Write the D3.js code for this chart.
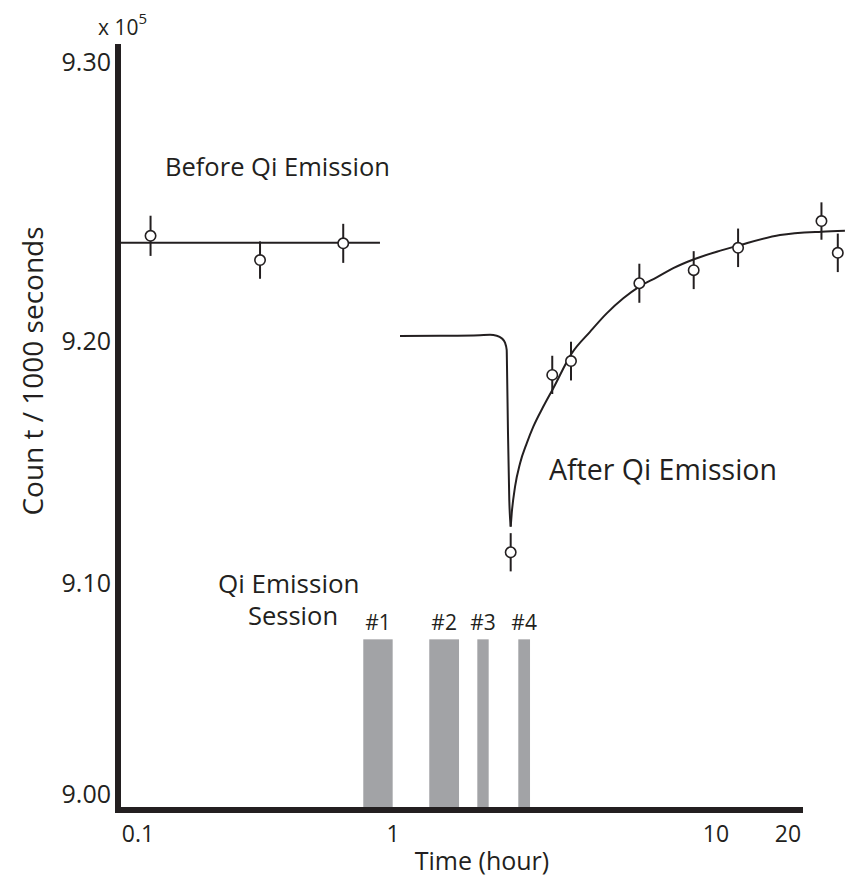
<!DOCTYPE html>
<html>
<head>
<meta charset="utf-8">
<script src="https://cdn.jsdelivr.net/npm/d3@7"></script>
<style>
  html, body { margin: 0; padding: 0; background: #fff; }
  svg text { font-family: "Open Sans", "Noto Sans", sans-serif; fill: #231f20; }
</style>
</head>
<body>
<svg id="chart" width="846" height="879"></svg>
<script>
// ---- data (time in hours, counts in units of 10^5 per 1000 s) ----
const xTickValues = [0.1, 1, 10, 20];
const xTickLabels = ["0.1", "1", "10", "20"];
const yTickValues = [9.00, 9.10, 9.20, 9.30];
const yTickLabels = ["9.00", "9.10", "9.20", "9.30"];

// measurements before emission: time, count, error
const beforeTime  = [0.112, 0.301, 0.638];
const beforeCount = [9.2377, 9.2290, 9.2350];
const beforeErr   = [0.0072, 0.0067, 0.0070];
const beforeLevel = 9.2352;
const beforeSpan  = [0.0835, 0.889];

// measurements after emission
const afterTime  = [2.314, 3.112, 3.557, 5.79, 8.53, 12.37, 27.6, 32.3];
const afterCount = [9.1127, 9.1860, 9.1917, 9.2207, 9.2254, 9.2334, 9.2430, 9.2316];
const afterErr   = [0.0079, 0.0079, 0.0080, 0.0070, 0.0068, 0.0069, 0.0067, 0.0069];

// fitted trace: level before the drop, and the drop itself
const dropTime  = [1.051, 1.398, 1.859, 1.997, 2.095, 2.170, 2.222, 2.249, 2.254, 2.270, 2.291, 2.314];
const dropCount = [9.2018, 9.2019, 9.2021, 9.2022, 9.2019, 9.2010, 9.1993, 9.1963, 9.1894, 9.1619, 9.1343, 9.1233];

// fitted recovery trace
const recoveryTime  = [2.314, 2.331, 2.387, 2.474, 2.594, 2.719, 2.920, 3.135, 3.575, 4.073, 4.588, 5.164, 5.788, 6.553, 7.375, 8.55, 10.07, 12.27, 18.52, 27.6, 34.6];
const recoveryCount = [9.1233, 9.1288, 9.1398, 9.1495, 9.1577, 9.1646, 9.1729, 9.1805, 9.1949, 9.2033, 9.2099, 9.2153, 9.2195, 9.2228, 9.2261, 9.2293, 9.2320, 9.2341, 9.2380, 9.2392, 9.2395];

// emission sessions: label, start, end (hours)
const sessionLabels = ["#1", "#2", "#3", "#4"];
const sessionStart  = [0.7646, 1.295, 1.824, 2.443];
const sessionEnd    = [0.997, 1.601, 1.978, 2.656];
const sessionLevel  = 9.0733;

// ---- scales ----
const x = d3.scaleLog().domain(xTickValues).range([138, 393, 716, 788]);
const y = d3.scaleLinear().domain(yTickValues).range([794, 583, 341, 62]);

const svg = d3.select("#chart");
const ink = "#231f20";

// frame geometry
const frameLeft = 118, frameRight = 803, frameTop = 44, frameBottom = 810;

// ---- emission session bars ----
const sessions = sessionLabels.map((l, i) => ({ l, s: sessionStart[i], e: sessionEnd[i] }));

svg.append("g").selectAll("rect")
  .data(sessions)
  .join("rect")
  .attr("x", d => x(d.s))
  .attr("width", d => x(d.e) - x(d.s))
  .attr("y", y(sessionLevel))
  .attr("height", frameBottom - y(sessionLevel))
  .attr("fill", "#a2a3a6");

svg.append("g").selectAll("text")
  .data(sessions)
  .join("text")
  .attr("x", d => (x(d.s) + x(d.e)) / 2)
  .attr("y", y(sessionLevel) - 9)
  .attr("text-anchor", "middle")
  .attr("font-size", 21)
  .text(d => d.l);

// ---- axes ----
svg.append("line")
  .attr("x1", frameLeft).attr("x2", frameLeft)
  .attr("y1", frameTop).attr("y2", frameBottom + 3)
  .attr("stroke", ink).attr("stroke-width", 6);
svg.append("line")
  .attr("x1", frameLeft - 3).attr("x2", frameRight)
  .attr("y1", frameBottom).attr("y2", frameBottom)
  .attr("stroke", ink).attr("stroke-width", 6);

svg.append("g").selectAll("text")
  .data(yTickValues)
  .join("text")
  .attr("x", 111)
  .attr("y", d => y(d))
  .attr("dy", "0.36em")
  .attr("text-anchor", "end")
  .attr("font-size", 25)
  .text((d, i) => yTickLabels[i]);

svg.append("g").selectAll("text")
  .data(xTickValues)
  .join("text")
  .attr("x", d => x(d))
  .attr("y", 842)
  .attr("text-anchor", "middle")
  .attr("font-size", 23)
  .text((d, i) => xTickLabels[i]);

// axis titles
svg.append("text")
  .attr("transform", "translate(43,371) rotate(-90)")
  .attr("text-anchor", "middle")
  .attr("font-size", 28)
  .text("Coun t / 1000 seconds");

svg.append("text")
  .attr("x", 482).attr("y", 870)
  .attr("text-anchor", "middle")
  .attr("font-size", 25)
  .text("Time (hour)");

const mult = svg.append("text").attr("x", 98).attr("y", 35).attr("font-size", 21);
mult.append("tspan").text("x 10");
mult.append("tspan").attr("dy", -11).attr("font-size", 15).text("5");

// ---- fitted traces ----
const line = d3.line().x(d => x(d[0])).y(d => y(d[1])).curve(d3.curveMonotoneX);

svg.append("line")
  .attr("x1", x(beforeSpan[0])).attr("x2", x(beforeSpan[1]))
  .attr("y1", y(beforeLevel)).attr("y2", y(beforeLevel))
  .attr("stroke", ink).attr("stroke-width", 2);

svg.append("path")
  .datum(dropTime.map((t, i) => [t, dropCount[i]]))
  .attr("d", line)
  .attr("fill", "none").attr("stroke", ink).attr("stroke-width", 2);

svg.append("path")
  .datum(recoveryTime.map((t, i) => [t, recoveryCount[i]]))
  .attr("d", line)
  .attr("fill", "none").attr("stroke", ink).attr("stroke-width", 2);

// ---- measurements with error bars ----
const points = beforeTime.map((t, i) => ({ t, c: beforeCount[i], e: beforeErr[i] }))
  .concat(afterTime.map((t, i) => ({ t, c: afterCount[i], e: afterErr[i] })));

const pts = svg.append("g").selectAll("g").data(points).join("g");
pts.append("line")
  .attr("x1", d => x(d.t)).attr("x2", d => x(d.t))
  .attr("y1", d => y(d.c + d.e)).attr("y2", d => y(d.c - d.e))
  .attr("stroke", ink).attr("stroke-width", 2);
pts.append("circle")
  .attr("cx", d => x(d.t)).attr("cy", d => y(d.c))
  .attr("r", 5.2)
  .attr("fill", "#fff").attr("stroke", ink).attr("stroke-width", 1.6);

// ---- annotations ----
svg.append("text").attr("x", 165).attr("y", 176).attr("font-size", 25.5).text("Before Qi Emission");
svg.append("text").attr("x", 549).attr("y", 480).attr("font-size", 28.5).text("After Qi Emission");
svg.append("text").attr("x", 218).attr("y", 593).attr("font-size", 26).text("Qi Emission");
svg.append("text").attr("x", 248).attr("y", 625).attr("font-size", 25.5).text("Session");
</script>
</body>
</html>
